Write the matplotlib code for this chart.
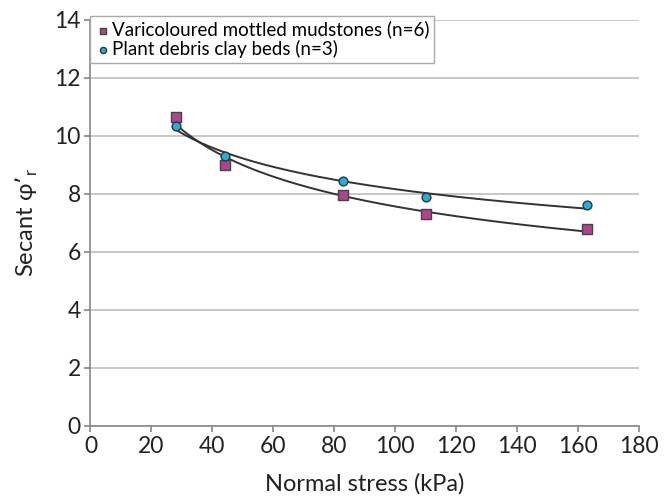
import numpy as np
import matplotlib.pyplot as plt

plt.rcParams['font.family'] = ['Lato', 'DejaVu Sans']

# data
mud_x = [28, 44, 83, 110, 163]
mud_y = [10.65, 9.0, 7.95, 7.3, 6.8]
plant_x = [28, 44, 83, 110, 163]
plant_y = [10.35, 9.3, 8.45, 7.9, 7.6]

mud_label = 'Varicoloured mottled mudstones (n=6)'
plant_label = 'Plant debris clay beds (n=3)'


def power_fit(x, y):
    # power trendline, as in a spreadsheet
    b, a = np.polyfit(np.log(x), np.log(y), 1)
    xs = np.linspace(min(x), max(x), 200)
    return xs, np.exp(a) * xs ** b


fig = plt.figure(figsize=(6.7, 4.98), dpi=100)
ax = fig.add_axes([0.135, 0.145, 0.819, 0.815])

for x, y in [(mud_x, mud_y), (plant_x, plant_y)]:
    xs, ys = power_fit(x, y)
    ax.plot(xs, ys, color='#333333', lw=1.4, zorder=2)

ax.scatter(mud_x, mud_y, marker='s', s=45, color='#b0438f', edgecolor='#444444',
           linewidth=1.0, zorder=3, label=mud_label)
ax.scatter(plant_x, plant_y, marker='o', s=40, color='#1fb1dc', edgecolor='#333333',
           linewidth=1.0, zorder=3, label=plant_label)

ax.set_xlim(0, 180)
ax.set_ylim(0, 14)
ax.set_xticks(np.arange(0, 181, 20))
ax.set_yticks(np.arange(0, 15, 2))
ax.grid(axis='y', color='#bdbdbd', lw=1.2)
ax.set_axisbelow(True)
for s in ['top', 'right']:
    ax.spines[s].set_visible(False)
for s in ['left', 'bottom']:
    ax.spines[s].set_color('#888888')
    ax.spines[s].set_linewidth(1.2)
ax.tick_params(axis='both', labelsize=16.5, color='#888888', length=4, width=1.2,
               labelcolor='#222222', pad=3)

ax.set_xlabel('Normal stress (kPa)', fontsize=17, color='#222222', labelpad=12)
ax.set_ylabel("Secant φ’$_\\mathregular{r}$", fontsize=17, color='#222222', labelpad=10)

leg = ax.legend(loc='upper left', bbox_to_anchor=(0.0, 1.01), fontsize=13.5,
                frameon=True, fancybox=False, edgecolor='#aaaaaa', framealpha=1,
                handletextpad=0.1, handlelength=0.8, borderpad=0.25,
                labelspacing=0.1, markerscale=0.7, borderaxespad=0)
leg.get_frame().set_linewidth(1.0)

fig.savefig('out.png', dpi=100)
